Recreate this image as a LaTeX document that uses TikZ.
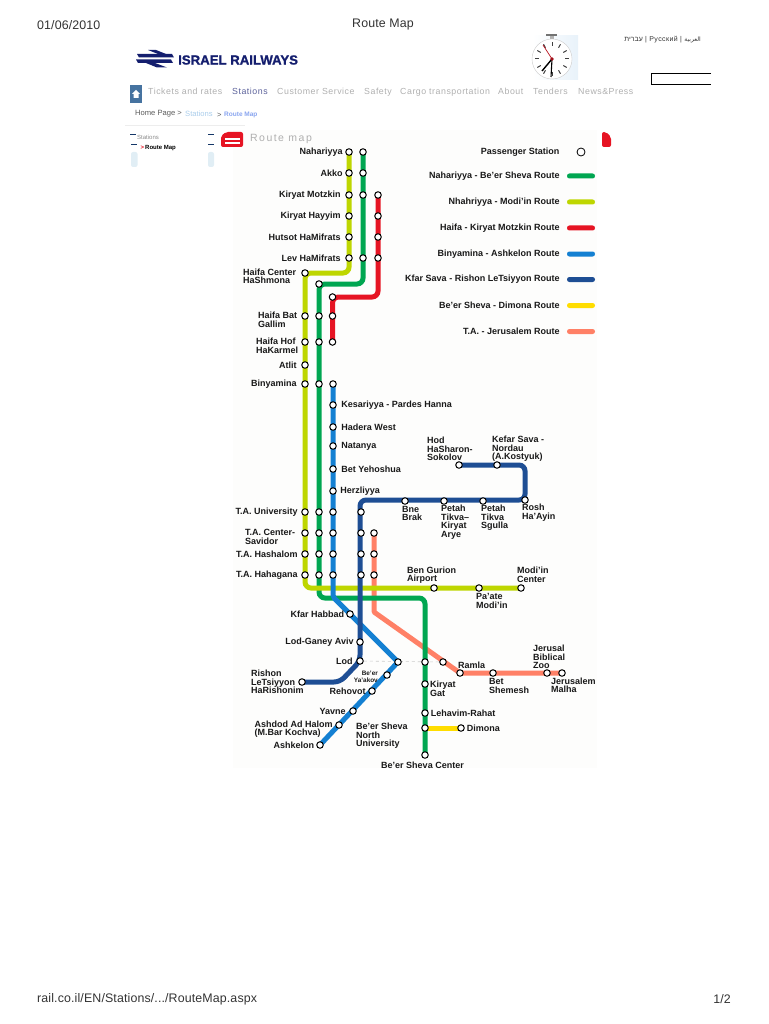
\documentclass[tikz,border=0pt]{standalone}
\usepackage{fontspec}
\usepackage{xcolor}
\usetikzlibrary{positioning,backgrounds}
\setmainfont{Liberation Sans}
\newfontfamily\navfont[LetterSpace=6]{Liberation Sans}
\newfontfamily\pagefont[LetterSpace=1]{Liberation Sans}
\newfontfamily\titlefont[LetterSpace=14]{Liberation Sans}
\newfontfamily\logofont[FakeBold=1.2,UprightFont=* Bold]{Liberation Sans}
\newfontfamily\hebfont[Script=Hebrew]{Liberation Sans}
\newfontfamily\arabicfont[Script=Arabic]{DejaVu Sans}
\TeXXeTstate=1
\definecolor{greencol}{RGB}{0,166,81}
\definecolor{limecol}{RGB}{190,214,0}
\definecolor{redcol}{RGB}{230,20,35}
\definecolor{bluecol}{RGB}{20,128,210}
\definecolor{darkcol}{RGB}{30,78,148}
\definecolor{yellowcol}{RGB}{255,221,0}
\definecolor{salmoncol}{RGB}{255,128,102}
\definecolor{navycol}{RGB}{20,30,110}
\definecolor{navgray}{RGB}{175,175,175}
\definecolor{crumbblue}{RGB}{170,205,235}
\definecolor{mapbg}{RGB}{253,253,252}
\definecolor{homecol}{RGB}{70,115,160}
\definecolor{menucol}{RGB}{225,238,245}
\definecolor{clockbg}{RGB}{232,242,250}

\begin{document}
\begin{tikzpicture}[
    x=1pt, y=-1pt,
    stn/.style={circle, draw=black, fill=white, line width=1pt, inner sep=0pt, minimum size=6.5pt},
    route/.style={line width=5pt, rounded corners=6pt},
    lab/.style={inner sep=0pt, align=left, text=black!90, font=\fontsize{9}{8.5}\selectfont\bfseries},
    swatch/.style={rectangle, rounded corners=2.4pt, inner sep=0pt, minimum width=28pt, minimum height=5pt},
    nav/.style={inner sep=0pt, anchor=west, text height=6.5pt, text depth=2pt, text=navgray, font=\navfont\fontsize{8.8}{10}\selectfont},
    page/.style={inner sep=0pt, anchor=west, text=black!80, font=\pagefont\fontsize{12.4}{14}\selectfont},
]
\useasboundingbox (0,0) rectangle (768,1024);

% page header and footer
\node[page] (datetext) at (37,25) {01/06/2010};
\node[page, anchor=center] (pagetitle) at (383,25) {Route Map};
\node[page] (urltext) at (37,999) {rail.co.il/EN/Stations/.../RouteMap.aspx};
\node[page, anchor=east] (pagenum) at (731,999) {1/2};

% logo
\fill[navycol] (137,54) -- (172,54) -- (174,57.5) -- (139,57.5) -- cycle;
\fill[navycol] (136,59.5) -- (171,59.5) -- (173,63) -- (138,63) -- cycle;
\fill[navycol] (148,50) -- (156,50) -- (166,54) -- (158,54) -- cycle;
\fill[navycol] (146,63) -- (155,63) -- (167,67.5) -- (157,67.5) -- cycle;
\node[inner sep=0pt, anchor=west, text=navycol, font=\logofont\fontsize{13.2}{14}\selectfont] (logotext) at (178,60) {ISRAEL RAILWAYS};

% clock
\shade[left color=white, right color=clockbg] (533,36) rectangle (578,80);
\fill[black!55] (546,34) rectangle (557,36.5);
\fill[black!30] (550,36.5) rectangle (554,39);
\draw[black!20, fill=white] (552,59) circle (20);
\foreach \ang in {0,30,...,330}
  \draw[black!75, line width=1pt] (552,59) ++(\ang:13) -- ++(\ang:4);
\draw[black, line width=1.4pt] (552,59) -- (542,71);
\draw[black, line width=1.1pt] (552,59) -- (551,77);
\draw[redcol!80!black, line width=.7pt] (552,59) -- (543,45);
\fill[redcol!70!black] (552,59) circle (1.8);

% language links
\node[inner sep=0pt, anchor=east, text=black!80, font=\navfont\fontsize{7}{8}\selectfont] (langtext) at (701,40)
  {{\hebfont\beginR עברית\endR} | Русский | {\arabicfont\fontsize{6}{8}\selectfont\beginR العربية\endR}};
\draw[black, line width=.7pt] (711,73) -- (651,73) -- (651,84) -- (711,84);

% navigation
\fill[homecol] (130,85) rectangle (142,103);
\fill[white] (136,90) -- (140,94) -- (138.5,94) -- (138.5,98) -- (133.5,98) -- (133.5,94) -- (132,94) -- cycle;
\node[nav] (navtickets) at (148,92) {Tickets and rates};
\node[nav, text=navycol!70] (navstations) at (232,92) {Stations};
\node[nav] (navservice) at (277,92) {Customer Service};
\node[nav] (navsafety) at (364,92) {Safety};
\node[nav] (navcargo) at (400,92) {Cargo transportation};
\node[nav] (navabout) at (498,92) {About};
\node[nav] (navtenders) at (533,92) {Tenders};
\node[nav] (navnews) at (578,92) {News\&Press};
\node[inner sep=0pt, anchor=west, text=black!65, font=\fontsize{7.6}{9}\selectfont] (crumbhome) at (135,114) {Home Page >};
\node[inner sep=0pt, anchor=west, text=crumbblue, font=\fontsize{7.6}{9}\selectfont] (crumbstations) at (185,114) {Stations};
\node[inner sep=0pt, anchor=west, text=black!65, font=\fontsize{7.6}{9}\selectfont] (crumbgt) at (217,115) {>};
\node[inner sep=0pt, anchor=west, text=crumbblue!80!blue, font=\fontsize{6.5}{9}\selectfont\bfseries] (crumbroute) at (224,115) {Route Map};

% side menu
\fill[black!7] (125,125) rectangle (245,126.5);
\fill[menucol, rounded corners=2pt] (131,152) rectangle (137.5,167);
\fill[menucol, rounded corners=2pt] (208,152) rectangle (214,167);
\fill[darkcol!70!black] (130,134) rectangle (136,135);
\fill[darkcol!70!black] (131,144) rectangle (137,145);
\fill[darkcol!70!black] (208,134) rectangle (214,135);
\fill[darkcol!70!black] (208,144) rectangle (214,145);
\node[inner sep=0pt, anchor=west, text=black!45, font=\fontsize{6}{8}\selectfont] (menustations) at (137,137) {Stations};
\node[inner sep=0pt, anchor=west, text=redcol, font=\fontsize{6}{8}\selectfont\bfseries] (menuarrow) at (140.5,148) {>};
\node[inner sep=0pt, anchor=west, text=black, font=\fontsize{6}{8}\selectfont\bfseries] (menuroute) at (145,148) {Route Map};
\fill[redcol, rounded corners=2pt] (221,136) -- (226,132) -- (243,132) -- (243,147) -- (221,147) -- cycle;
\fill[white] (225,138) rectangle (240,140);
\fill[white] (225,142) rectangle (240,144);
\node[inner sep=0pt, anchor=west, text=navgray, font=\titlefont\fontsize{10.5}{12}\selectfont] (maptitle) at (250,138.5) {Route map};
\fill[redcol, rounded corners=2pt] (602,132) -- (606,132) -- (611,137) -- (611,147) -- (602,147) -- cycle;

% northern stations
\node[stn] (nahariyya) at (349,152) {};
\node[stn] (akko) at (349,173) {};
\node[stn] (motzkin) at (349,195) {};
\node[stn] (hayyim) at (349,216) {};
\node[stn] (hutsot) at (349,237) {};
\node[stn] (lev) at (349,258) {};
\node[stn] (nahariyyaG) at (363,152) {};
\node[stn] (akkoG) at (363,173) {};
\node[stn] (motzkinG) at (363,195) {};
\node[stn] (levG) at (363,258) {};
\node[stn] (motzkinR) at (378,195) {};
\node[stn] (hayyimR) at (378,216) {};
\node[stn] (hutsotR) at (378,237) {};
\node[stn] (levR) at (378,258) {};
\node[stn] (haifacenter) at (305,273) {};
\node[stn] (haifaG) at (319,284) {};
\node[stn] (haifaR) at (332.5,297) {};
\node[stn] (bat) at (305,316) {};
\node[stn] (batG) at (319,316) {};
\node[stn] (batR) at (332.5,316) {};
\node[stn] (hof) at (305,342) {};
\node[stn] (hofG) at (319,342) {};
\node[stn] (hofR) at (332.5,342) {};
\node[stn] (atlit) at (305,365) {};
\node[stn] (binyamina) at (305,384) {};
\node[stn] (binyaminaG) at (319,384) {};
\node[stn] (binyaminaB) at (333,384) {};

% coastal stations
\node[stn] (kesariyya) at (333,405) {};
\node[stn] (hadera) at (333,427) {};
\node[stn] (natanya) at (333,446) {};
\node[stn] (yehoshua) at (333,469) {};
\node[stn] (herzliyya) at (333,491) {};
\node[stn] (university) at (305,512) {};
\node[stn] (universityG) at (319,512) {};
\node[stn] (universityB) at (333,512) {};
\node[stn] (universityD) at (361,512) {};
\node[stn] (savidor) at (305,533) {};
\node[stn] (savidorG) at (319,533) {};
\node[stn] (savidorB) at (333,533) {};
\node[stn] (savidorD) at (361,533) {};
\node[stn] (savidorS) at (374,533) {};
\node[stn] (hashalom) at (305,554) {};
\node[stn] (hashalomG) at (319,554) {};
\node[stn] (hashalomB) at (333,554) {};
\node[stn] (hashalomD) at (361,554) {};
\node[stn] (hashalomS) at (374,554) {};
\node[stn] (hahagana) at (305,575) {};
\node[stn] (hahaganaG) at (319,575) {};
\node[stn] (hahaganaB) at (333,575) {};
\node[stn] (hahaganaD) at (361,575) {};
\node[stn] (hahaganaS) at (374,575) {};

% eastern branch
\node[stn] (hod) at (459,465) {};
\node[stn] (nordau) at (497,465) {};
\node[stn] (bnebrak) at (405,501) {};
\node[stn] (arye) at (444,501) {};
\node[stn] (sgulla) at (483,501) {};
\node[stn] (rosh) at (525,500) {};
\node[stn] (airport) at (434,588) {};
\node[stn] (paate) at (479,588) {};
\node[stn] (modiin) at (521,588) {};

% southern stations
\node[stn] (habbad) at (350,614) {};
\node[stn] (ganey) at (360,642) {};
\node[stn] (lod) at (360,661) {};
\node[stn] (rishon) at (302,682) {};
\node[stn] (junction) at (398,662) {};
\node[stn] (lodG) at (425,662) {};
\node[stn] (lodS) at (443,662) {};
\node[stn] (yaakov) at (387,675) {};
\node[stn] (rehovot) at (372,691) {};
\node[stn] (yavne) at (353,711) {};
\node[stn] (ashdod) at (339,725) {};
\node[stn] (ashkelon) at (320,745) {};
\node[stn] (kiryatgat) at (425,684) {};
\node[stn] (lehavim) at (425,713) {};
\node[stn] (dimonaG) at (425,728) {};
\node[stn] (dimona) at (461,728) {};
\node[stn] (shevacenter) at (425,755) {};
\node[stn] (ramla) at (460,673) {};
\node[stn] (shemesh) at (493,673) {};
\node[stn] (biblical) at (547,673) {};
\node[stn] (malha) at (562,673) {};

\coordinate (greenbend) at (425,598);
\coordinate (bluebend) at (333,597);
\coordinate (darkbend) at (340,682);
\coordinate (salmonbend) at (374,612);

\begin{scope}[on background layer]
\fill[mapbg] (233,130) rectangle (597,768);
\draw[black!20, dashed, line width=.6pt] (lod) -- (lodS);
\draw[route, salmoncol, rounded corners=1pt] (savidorS.center) -- (salmonbend) -- (ramla.center) -- (malha.center);
\draw[route, greencol] (nahariyyaG.center) |- (haifaG.center) -- (hahaganaG.center) |- (greenbend) -- (shevacenter.center);
\draw[route, limecol] (nahariyya.center) |- (haifacenter.center) -- (hahagana.center) |- (modiin.center);
\draw[route, redcol] (motzkinR.center) |- (haifaR.center) -- (hofR.center);
\draw[route, bluecol, rounded corners=2pt] (binyaminaB.center) -- (bluebend) -- (junction.center) -- (ashkelon.center);
\draw[route, darkcol] (hod.center) -| (rosh.center) -| (lod.center) -- (darkbend) -- (rishon.center);
\draw[route, yellowcol, rounded corners=0pt] (dimonaG.center) -- (dimona.center);
\end{scope}

% station names
\node[lab, left=2.5pt of nahariyya] (nahariyyatext) {Nahariyya};
\node[lab, left=2.5pt of akko] (akkotext) {Akko};
\node[lab, left=4.5pt of motzkin] (motzkintext) {Kiryat Motzkin};
\node[lab, left=4.5pt of hayyim] (hayyimtext) {Kiryat Hayyim};
\node[lab, left=4.5pt of hutsot] (hutsottext) {Hutsot HaMifrats};
\node[lab, left=4.5pt of lev] (levtext) {Lev HaMifrats};
\node[lab, anchor=west] (centertext) at (243,276.5) {Haifa Center\\HaShmona};
\node[lab, anchor=west] (battext) at (258,320) {Haifa Bat\\Gallim};
\node[lab, anchor=west] (hoftext) at (256,346) {Haifa Hof\\HaKarmel};
\node[lab, left=4.5pt of atlit] (atlittext) {Atlit};
\node[lab, left=4.5pt of binyamina] (binyaminatext) {Binyamina};
\node[lab, right=4.5pt of kesariyya] (kesariyyatext) {Kesariyya - Pardes Hanna};
\node[lab, right=4.5pt of hadera] (haderatext) {Hadera West};
\node[lab, right=4.5pt of natanya] (natanyatext) {Natanya};
\node[lab, right=4.5pt of yehoshua] (yehoshuatext) {Bet Yehoshua};
\node[lab, right=3.5pt of herzliyya] (herzliyyatext) {Herzliyya};
\node[lab, left=3.5pt of university] (universitytext) {T.A. University};
\node[lab, anchor=west] (savidortext) at (245,537) {T.A. Center-\\Savidor};
\node[lab, left=3.5pt of hashalom] (hashalomtext) {T.A. Hashalom};
\node[lab, left=3.5pt of hahagana] (hahaganatext) {T.A. Hahagana};
\node[lab, anchor=west] (hodtext) at (427,449) {Hod\\HaSharon-\\Sokolov};
\node[lab, anchor=west] (nordautext) at (492,449) {Kefar Sava -\\Nordau\\(A.Kostyuk)};
\node[lab, anchor=west] (bnebraktext) at (402,513.5) {Bne\\Brak};
\node[lab, anchor=west] (aryetext) at (441,522) {Petah\\Tikva--\\Kiryat\\Arye};
\node[lab, anchor=west] (sgullatext) at (481,518) {Petah\\Tikva\\Sgulla};
\node[lab, anchor=west] (roshtext) at (522,512.5) {Rosh\\Ha'Ayin};
\node[lab, anchor=west] (airporttext) at (407,575) {Ben Gurion\\Airport};
\node[lab, anchor=west] (paatetext) at (476,601) {Pa'ate\\Modi'in};
\node[lab, anchor=west] (modiintext) at (517,575) {Modi'in\\Center};
\node[lab, left=2pt of habbad] (habbadtext) {Kfar Habbad};
\node[lab, left=2.5pt of ganey] (ganeytext) {Lod-Ganey Aviv};
\node[lab, left=3.5pt of lod] (lodtext) {Lod};
\node[lab, anchor=west] (rishontext) at (251,682) {Rishon\\LeTsiyyon\\HaRishonim};
\node[lab, align=right, anchor=east, font=\fontsize{6.4}{7.2}\selectfont\bfseries] (yaakovtext) at (378,676.5) {Be'er\\Ya'akov};
\node[lab, left=2.5pt of rehovot] (rehovottext) {Rehovot};
\node[lab, left=3.5pt of yavne] (yavnetext) {Yavne};
\node[lab, anchor=west] (ashdodtext) at (254.5,729) {Ashdod Ad Halom\\(M.Bar Kochva)};
\node[lab, left=2pt of ashkelon] (ashkelontext) {Ashkelon};
\node[lab, anchor=west] (northtext) at (356,736) {Be'er Sheva\\North\\University};
\node[lab, below=3pt of shevacenter, xshift=-2.5pt] (shevatext) {Be'er Sheva Center};
\node[lab, anchor=west] (kiryatgattext) at (430,689) {Kiryat\\Gat};
\node[lab, right=2pt of lehavim] (lehavimtext) {Lehavim-Rahat};
\node[lab, right=2pt of dimona] (dimonatext) {Dimona};
\node[lab, anchor=west] (ramlatext) at (458,665) {Ramla};
\node[lab, anchor=west] (shemeshtext) at (489,686) {Bet\\Shemesh};
\node[lab, anchor=west] (biblicaltext) at (533,657) {Jerusal\\Biblical\\Zoo};
\node[lab, anchor=west] (malhatext) at (551,685.5) {Jerusalem\\Malha};

% legend
\node[stn, minimum size=8pt, line width=.8pt] (stationkey) at (581,152) {};
\node[lab, left=17pt of stationkey] (stationkeytext) {Passenger Station};
\node[swatch, fill=greencol] (greenkey) at (581,176) {};
\node[lab, left=7pt of greenkey] (greenkeytext) {Nahariyya - Be'er Sheva Route};
\node[swatch, fill=limecol] (limekey) at (581,202) {};
\node[lab, left=7pt of limekey] (limekeytext) {Nhahriyya - Modi'in Route};
\node[swatch, fill=redcol] (redkey) at (581,228) {};
\node[lab, left=7pt of redkey] (redkeytext) {Haifa - Kiryat Motzkin Route};
\node[swatch, fill=bluecol] (bluekey) at (581,254) {};
\node[lab, left=7pt of bluekey] (bluekeytext) {Binyamina - Ashkelon Route};
\node[swatch, fill=darkcol] (darkkey) at (581,279.5) {};
\node[lab, left=7pt of darkkey] (darkkeytext) {Kfar Sava - Rishon LeTsiyyon Route};
\node[swatch, fill=yellowcol] (yellowkey) at (581,305.5) {};
\node[lab, left=7pt of yellowkey] (yellowkeytext) {Be'er Sheva - Dimona Route};
\node[swatch, fill=salmoncol] (salmonkey) at (581,331.5) {};
\node[lab, left=7pt of salmonkey] (salmonkeytext) {T.A. - Jerusalem Route};
\end{tikzpicture}
\end{document}
